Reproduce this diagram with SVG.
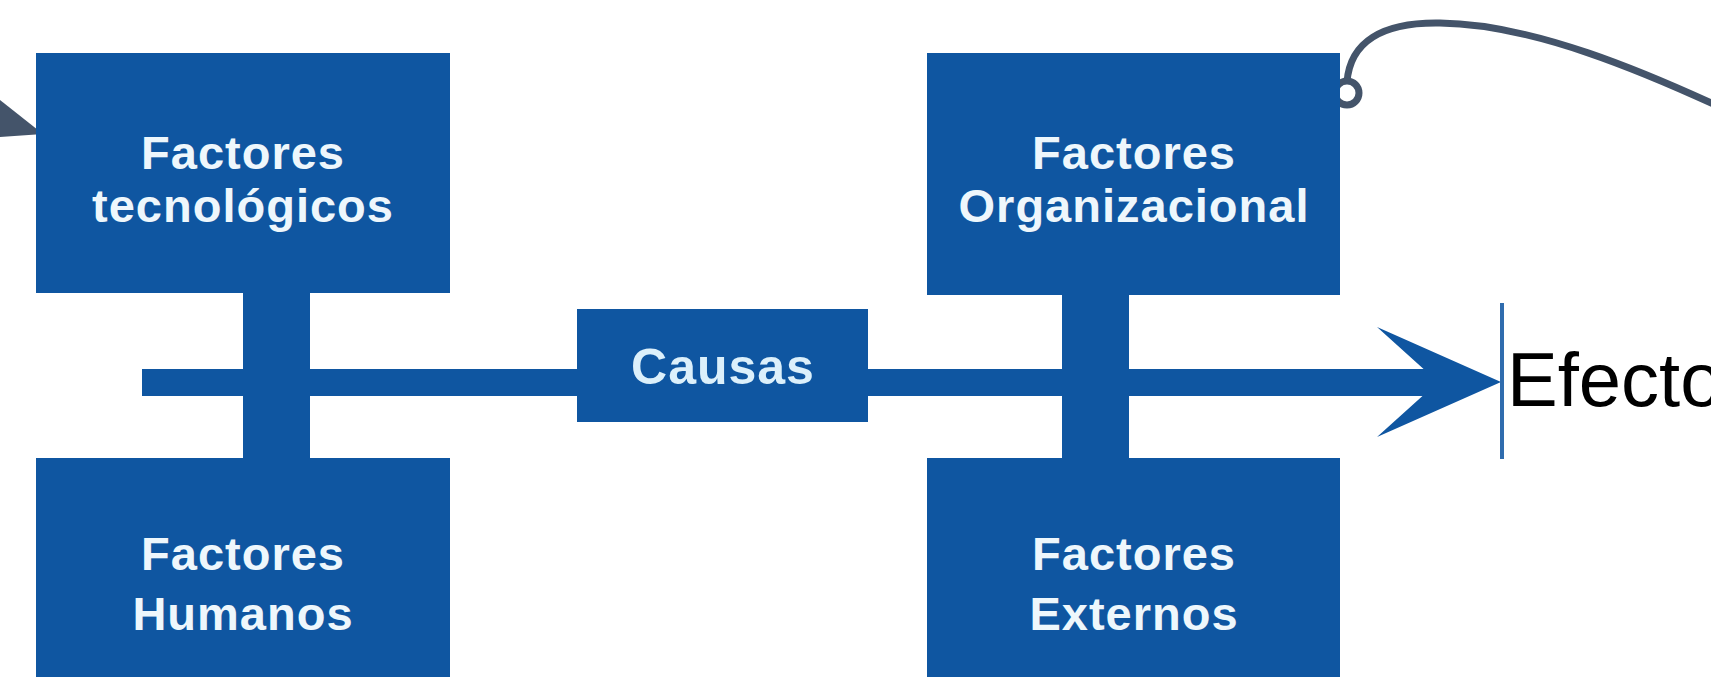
<svg xmlns="http://www.w3.org/2000/svg" width="1711" height="677" viewBox="0 0 1711 677">
  <style>
    .box { fill: #0f56a1; }
    .lbl { font-family: "Liberation Sans", Arial, sans-serif; font-weight: bold; font-size: 47px; fill: #eef7fc; text-anchor: middle; letter-spacing: 1px; }
    .cau { font-family: "Liberation Sans", Arial, sans-serif; font-weight: bold; font-size: 50px; fill: #dcf0fb; text-anchor: middle; letter-spacing: 1px; }
    .eff { font-family: "Liberation Sans", Arial, sans-serif; font-size: 76px; fill: #000000; }
    .bar { fill: #0f56a1; }
    .curve { fill: none; stroke: #44546a; stroke-width: 7; stroke-linecap: round; }
  </style>
  <rect width="1711" height="677" fill="#ffffff"/>

  <g id="connectors">
    <!-- vertical spines -->
    <rect class="bar" x="243" y="290" width="67" height="170"/>
    <rect class="bar" x="1062" y="290" width="67" height="170"/>
    <!-- main horizontal spine -->
    <rect class="bar" x="142" y="369" width="1300" height="27"/>
    <!-- arrowhead -->
    <polygon class="bar" points="1377,327 1501,382 1377,437 1438,382"/>
    <!-- marker line at tip -->
    <rect x="1500" y="303" width="4" height="156" fill="#2f6cae"/>
    <!-- curved connector from Factores Organizacional -->
    <path class="curve" d="M1347,82 C1350,42 1382,22 1440,23 C1530,24 1640,68 1760,126"/>
    <circle cx="1347" cy="93" r="12" fill="#ffffff" stroke="#44546a" stroke-width="7"/>
    <!-- partial arrowhead at left edge -->
    <polygon points="0,100 43,134 0,137" fill="#44546a"/>
  </g>

  <g id="node-tecnologicos">
    <rect class="box" x="36" y="53" width="414" height="240"/>
    <text class="lbl" x="243" y="169">Factores</text>
    <text class="lbl" x="243" y="222">tecnológicos</text>
  </g>

  <g id="node-humanos">
    <rect class="box" x="36" y="458" width="414" height="230"/>
    <text class="lbl" x="243" y="570">Factores</text>
    <text class="lbl" x="243" y="630">Humanos</text>
  </g>

  <g id="node-causas">
    <rect class="box" x="577" y="309" width="291" height="113"/>
    <text class="cau" x="723" y="384">Causas</text>
  </g>

  <g id="node-organizacional">
    <rect class="box" x="927" y="53" width="413" height="242"/>
    <text class="lbl" x="1134" y="169">Factores</text>
    <text class="lbl" x="1134" y="222">Organizacional</text>
  </g>

  <g id="node-externos">
    <rect class="box" x="927" y="458" width="413" height="230"/>
    <text class="lbl" x="1134" y="570">Factores</text>
    <text class="lbl" x="1134" y="630">Externos</text>
  </g>

  <g id="node-efecto">
    <text class="eff" x="1507" y="406">Efecto</text>
  </g>
</svg>
